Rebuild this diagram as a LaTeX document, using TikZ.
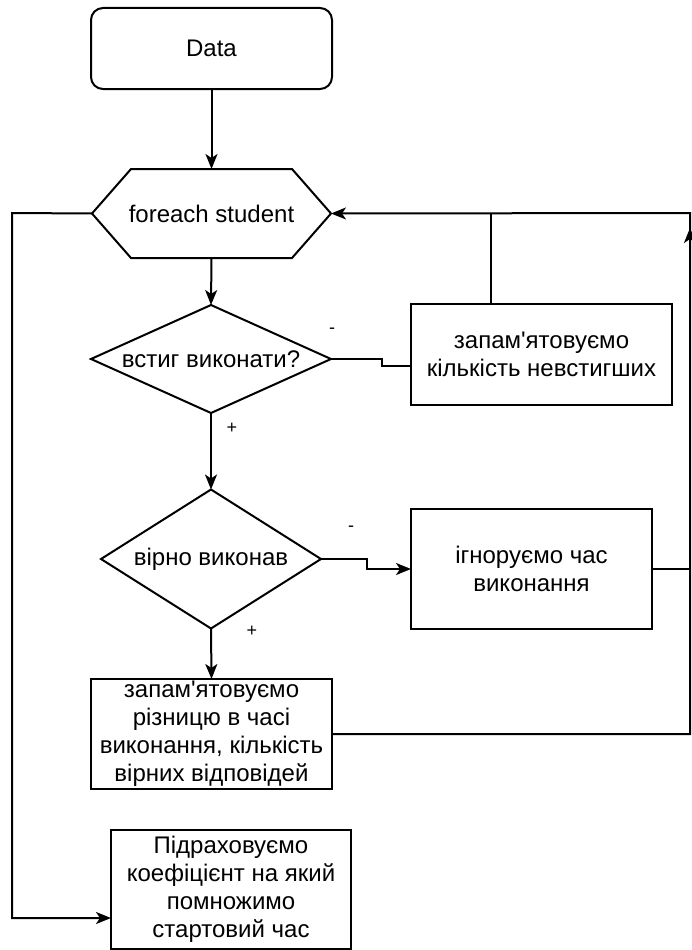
\documentclass[tikz,border=0pt]{standalone}
\usepackage{fontspec}
\setmainfont{Liberation Sans}[Ligatures=TeXOff]
\usetikzlibrary{arrows.meta}
\begin{document}
\begin{tikzpicture}[x=1pt,y=-1pt]
\tikzset{
 ln/.style={line width=2pt, draw=black},
 arr/.style={ln, -{Stealth[length=15pt,width=12pt,inset=4pt]}},
 txt/.style={font=\fontsize{24}{28}\selectfont, align=center, inner sep=0pt, outer sep=0pt},
 boxshape/.style={txt, draw, line width=2pt, rectangle},
 lbl/.style={font=\fontsize{18}{20}\selectfont, inner sep=0pt}
}
\useasboundingbox[fill=white] (0,0) rectangle (691,950);

\node[boxshape, rounded corners=12pt, minimum width=241pt, minimum height=81pt] (data) at (211.5,48.5) {Data};

\node[txt, minimum width=239pt, minimum height=89pt] (hex) at (211.5,213.5) {foreach student};
\draw[ln] (hex.west) -- ([xshift=39pt]hex.north west) -- ([xshift=-39pt]hex.north east) -- (hex.east) -- ([xshift=-39pt]hex.south east) -- ([xshift=39pt]hex.south west) -- cycle;

\node[txt, minimum width=240pt, minimum height=108pt] (d1) at (211,359) {встиг виконати?};
\draw[ln] (d1.west) -- (d1.north) -- (d1.east) -- (d1.south) -- cycle;

\node[boxshape, minimum width=261pt, minimum height=101pt] (ba) at (541.5,354.5) {запам'ятовуємо\\кількість невстигших};

\node[txt, minimum width=220pt, minimum height=139pt] (d2) at (211,559) {вірно виконав};
\draw[ln] (d2.west) -- (d2.north) -- (d2.east) -- (d2.south) -- cycle;

\node[boxshape, minimum width=241pt, minimum height=120pt] (bb) at (531.5,569) {ігноруємо час\\виконання};

\node[boxshape, minimum width=241pt, minimum height=110pt] (bc) at (211.5,734) {запам'ятовуємо\\різницю в часі\\виконання, кількість\\вірних відповідей};

\node[boxshape, minimum width=240pt, minimum height=119pt] (bd) at (231,889.5) {Підраховуємо\\коефіцієнт на який\\помножимо\\стартовий час};

% labels
\node[lbl] (m1) at (332,331) {-};
\node[lbl] (p1) at (232,428) {+};
\node[lbl] (m2) at (351,529) {-};
\node[lbl] (p2) at (252,631) {+};

% coordinates
\coordinate (s1) at (382,366);
\coordinate (j1) at (491,213);
\coordinate (s2) at (367,569);
\coordinate (r1) at (690,569);
\coordinate (r1e) at (690,228);
\coordinate (r2) at (690,734);
\coordinate (r2t) at (690,213);
\coordinate (l1) at (12,213);
\coordinate (l2) at (12,918);

% connectors
\draw[arr] (data.south) -- (hex.north);
\draw[arr] (hex.south) -- (d1.north);
\draw[ln] (d1.east) -| (s1) -- (ba.west |- s1);
\draw[ln] (ba.north -| j1) -- (j1);
\draw[arr] (d1.south) -- (d2.north);
\draw[arr] (d2.east) -| (s2) -- (bb.west);
\draw[arr] (bb.east) -- (r1) -- (r1e);
\draw[arr] (d2.south) -- (bc.north);
\draw[arr] (bc.east |- r2) -- (r2) -- (r2t) -- (hex.east);
\draw[arr] (hex.west) -- (l1) -- (l2) -- (bd.west |- l2);
\end{tikzpicture}
\end{document}
